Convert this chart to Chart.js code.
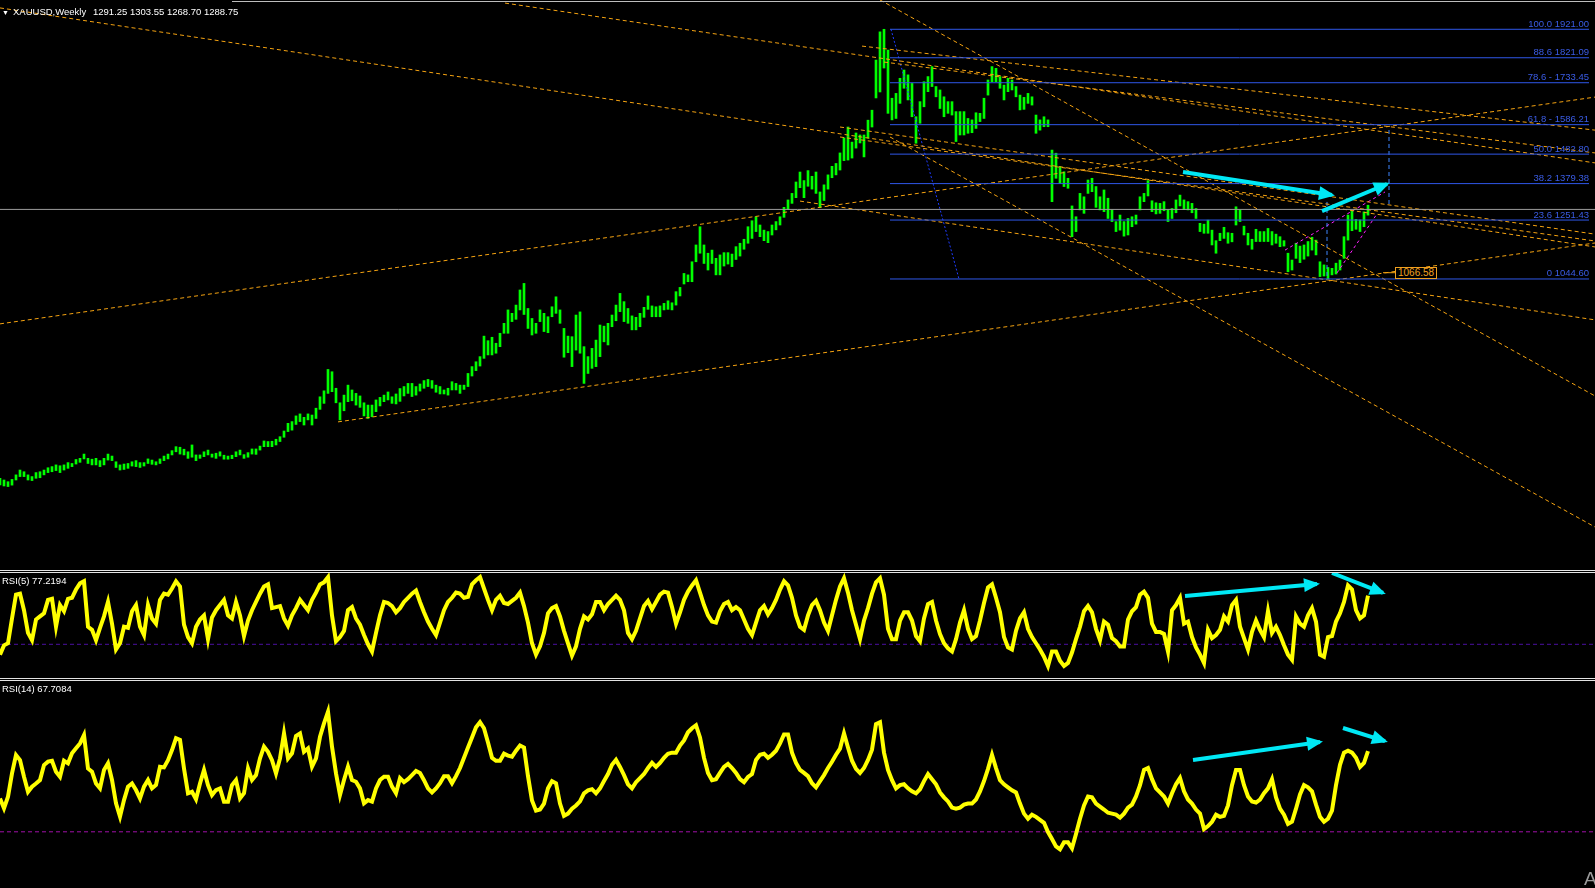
<!DOCTYPE html>
<html>
<head>
<meta charset="utf-8">
<title>XAUUSD,Weekly</title>
<script src="https://cdn.jsdelivr.net/npm/chart.js@4.4.1/dist/chart.umd.min.js"></script>
<style>
  html, body { margin: 0; padding: 0; background: #000; }
  body { width: 1595px; height: 888px; position: relative; overflow: hidden; font-family: 'Liberation Sans', Arial, sans-serif; }
  canvas { position: absolute; left: 0; }
  .sep { position: absolute; left: 0; width: 1595px; height: 1px; background: #e4e4e4; }
  .lbl { position: absolute; font-size: 9.5px; line-height: 1; color: #fff; white-space: nowrap; }
  .fib { position: absolute; font-size: 9.5px; line-height: 1; color: #3a5ce6; white-space: nowrap; }
  .tag { position: absolute; font-size: 10px; line-height: 10px; height: 10px; padding: 0 2px; border: 1px solid #f0a020; color: #f0a020; background: #000; white-space: nowrap; }
</style>
</head>
<body>
<canvas id="mainChart" width="1595" height="570" style="top:0"></canvas>
<div class="sep" style="top:1px;left:232px;width:1363px;background:#bdbdbd"></div>
<div class="sep" style="top:570px"></div>
<div class="sep" style="top:572px"></div>
<canvas id="rsi5Chart" width="1595" height="105" style="top:573px"></canvas>
<div class="sep" style="top:678px"></div>
<div class="sep" style="top:680px"></div>
<canvas id="rsi14Chart" width="1595" height="207" style="top:681px"></canvas>

<div class="lbl" style="left:2px;top:9px;font-size:7px">▼</div>
<div class="lbl" style="left:13px;top:7px">XAUUSD,Weekly</div>
<div class="lbl" style="left:93px;top:7px">1291.25 1303.55 1268.70 1288.75</div>
<div class="lbl" style="left:2px;top:576px">RSI(5) 77.2194</div>
<div class="lbl" style="left:2px;top:684px">RSI(14) 67.7084</div>
<div class="lbl" style="left:1584px;top:869px;font-size:19px;color:#9a9a9a">A</div>

<script>
// weekly gold bars, one bar every two weeks (index = bar number)
const lows = [
  322,318,316,321,339,351,351,339,337,345,347,357,365,368,372,365,374,380,386,395,
  401,413,397,392,392,386,392,409,407,383,374,376,380,388,386,383,388,397,394,392,
  397,407,413,427,438,430,427,415,419,407,415,421,427,419,415,423,412,412,414,421,
  427,415,419,430,429,444,456,456,456,462,474,489,509,514,534,544,532,550,532,555,
  587,608,643,649,610,550,582,614,617,602,594,564,555,561,579,599,614,620,608,606,
  615,634,643,632,637,651,661,667,661,647,641,641,637,655,655,643,657,667,704,723,
  739,766,778,778,784,807,854,854,895,903,936,920,871,848,854,895,860,856,912,924,
  889,770,786,737,795,784,678,713,731,737,772,824,813,877,898,930,895,889,866,866,
  877,910,938,912,912,912,936,938,936,953,985,1027,1035,1035,1105,1135,1099,1076,1099,1059,
  1059,1090,1097,1088,1113,1125,1149,1170,1187,1211,1193,1179,1172,1199,1217,1234,1261,1289,1310,1330,
  1365,1330,1370,1360,1345,1295,1320,1360,1400,1410,1427,1460,1462,1469,1504,1522,1473,1539,1578,1680,
  1701,1785,1626,1603,1608,1661,1714,1673,1614,1521,1591,1649,1702,1720,1684,1643,1614,1626,1620,1527,
  1550,1550,1556,1558,1573,1597,1608,1690,1737,1737,1714,1673,1702,1708,1684,1638,1640,1661,1655,1556,
  1567,1579,1579,1316,1398,1380,1369,1363,1193,1211,1287,1275,1345,1351,1296,1287,1281,1257,1246,1211,
  1216,1195,1199,1228,1237,1287,1316,1336,1281,1273,1275,1284,1246,1257,1277,1301,1289,1287,1277,1257,
  1211,1205,1205,1164,1135,1179,1187,1170,1175,1234,1246,1199,1164,1149,1176,1176,1176,1176,1164,1170,
  1158,1160,1070,1076,1117,1102,1114,1125,1146,1129,1053,1055,1045,1059,1062,1076,1117,1181,1214,1219,
  1211,1228,1268.70
];
const highs = [
  345,339,333,341,357,374,368,357,351,365,368,374,382,386,392,389,392,400,397,411,
  415,430,415,412,415,407,415,430,423,403,392,395,397,403,407,400,400,413,409,403,
  413,423,430,442,456,454,447,438,462,427,427,438,444,430,433,438,426,423,426,438,
  444,428,435,448,448,458,476,474,475,482,491,511,538,544,564,571,559,571,567,591,
  631,652,727,719,661,610,637,672,655,643,634,610,602,602,620,629,637,648,631,641,
  660,667,678,678,667,676,688,692,688,672,667,655,661,684,678,672,672,713,737,754,
  772,844,828,840,819,854,889,936,924,953,1006,1029,941,906,889,936,924,912,947,982,
  936,871,844,842,918,929,807,772,801,830,883,879,889,918,953,994,965,941,915,910,
  924,945,985,950,947,950,959,968,961,1000,1015,1064,1059,1105,1164,1228,1164,1135,1146,1117,
  1129,1137,1137,1132,1158,1170,1184,1228,1249,1263,1234,1216,1211,1234,1246,1263,1296,1322,1345,1385,
  1420,1390,1425,1405,1420,1350,1375,1410,1440,1450,1487,1540,1578,1525,1557,1550,1550,1602,1637,1813,
  1912,1921,1848,1679,1696,1749,1778,1761,1731,1614,1667,1737,1755,1790,1720,1708,1684,1667,1667,1632,
  1632,1632,1608,1603,1628,1626,1679,1743,1790,1784,1755,1725,1749,1743,1720,1690,1682,1696,1684,1620,
  1603,1614,1603,1497,1486,1439,1421,1398,1301,1263,1345,1333,1392,1398,1369,1333,1357,1328,1287,1246,
  1269,1246,1257,1263,1269,1333,1345,1390,1319,1312,1310,1316,1287,1292,1322,1339,1322,1316,1310,1292,
  1240,1237,1251,1216,1179,1205,1226,1207,1205,1298,1287,1230,1205,1184,1219,1211,1211,1222,1211,1202,
  1193,1179,1135,1111,1170,1160,1164,1176,1191,1181,1105,1094,1085,1082,1100,1111,1193,1269,1284,1254,
  1252,1280,1303.55
];
const rsi5 = [
  20,29,31,55,78,79,63,41,34,54,57,60,73,74,47,68,62,74,75,83,
  89,91,47,44,34,46,57,71,50,25,31,47,46,62,68,47,39,68,55,50,
  73,79,78,84,91,86,49,37,31,47,54,58,35,56,63,68,73,58,55,71,
  58,38,53,63,71,79,86,88,65,66,67,55,48,58,65,73,68,63,73,80,
  88,90,95,58,33,37,43,63,66,55,49,39,30,23,41,58,71,70,67,61,
  65,71,75,79,82,71,61,52,45,39,51,63,71,75,80,79,75,76,88,92,
  95,84,73,63,73,77,70,69,72,75,80,67,51,31,20,28,41,60,65,67,
  57,43,31,19,28,45,57,54,59,71,71,63,69,73,77,73,63,41,35,43,
  55,67,72,64,71,78,81,80,66,50,61,73,81,87,92,80,68,58,52,51,
  62,69,71,63,66,63,54,45,39,51,63,67,59,65,73,83,91,87,75,58,
  47,44,58,68,72,63,51,43,58,73,86,94,80,63,49,35,53,65,79,90,
  94,78,45,35,35,53,61,61,53,38,33,55,69,71,53,40,31,26,23,35,
  51,63,45,35,38,53,70,85,88,75,61,37,27,25,43,55,61,45,37,31,
  25,18,9,23,23,14,9,12,22,35,47,62,67,61,45,34,52,49,36,33,
  28,28,54,62,66,78,81,75,50,42,42,40,23,63,68,75,50,52,37,27,
  20,12,44,36,39,44,57,52,68,73,47,36,25,42,53,44,37,62,41,47,
  39,29,20,15,57,50,47,58,65,52,20,18,37,38,52,60,71,87,83,63,
  55,58,77.2
];
const rsi14 = [
  45.6,41,46.4,57.3,65.9,63.5,55.7,48.7,51.1,52.6,54.2,61.2,62.8,63.2,58.1,55.7,63.2,62,66.7,69,
  71.3,75.2,59.6,58.1,52.6,50.3,58.9,62,54.2,43.3,37.1,44.8,51.1,52.6,49.5,45.6,51.1,54.2,50.3,51.9,
  60.4,60.1,63.5,68.2,73.7,72.9,59.6,48,48.7,45.2,52.6,58.9,51.8,47.2,49.5,50.3,44.1,44.1,51.8,54.2,
  45.6,48,59.6,54.2,56.5,64.3,69.8,67.4,63.5,57.3,64.3,76,64.3,66.7,74.8,76,67.4,69,60.4,64.3,
  74.4,80.7,86.1,69.8,57.3,47.2,54.2,60.4,54.2,53.4,50.3,43.3,44.8,44.1,50.3,54.2,55.7,55.7,51.1,48,
  55.1,53.2,54.6,56.5,58.4,57.5,54.1,50.3,48.4,50.3,52.7,56,56,52.7,56,59.8,64.6,69.4,74.1,78.9,
  81.2,78.4,71.7,64.6,63.2,63.2,66.5,65.6,65.1,67.9,70.3,69.4,56,44.6,39.9,40.4,43.2,50.3,53.7,52.7,
  43.2,37.5,38.5,40.8,42.3,44.2,48,49.4,49.9,48,50.3,53.7,57,61.3,63.6,60.3,56.5,52.2,50.3,53.2,
  55.1,57,59.8,62.2,60.3,62.2,64.6,66.5,67,67,70.3,72.7,76.5,78.4,79.8,74.1,64.6,57.5,54.1,54.6,
  57.5,60.3,61.7,59.8,57.5,54.6,53.2,55.6,57,63.6,66,66.5,64.6,66,67.9,71.3,75.5,75.5,67,62.2,
  58.9,57.5,56,52.7,50.8,53.7,56.5,59.8,62.7,66,68.9,76,69.4,63.2,59.4,57.5,59.8,63.6,68.4,80.3,
  81.2,67,58.9,54.1,50.3,51.8,52.2,50.3,48.9,48,49.9,53.7,57,54.6,52.2,48.4,46.1,44.2,41.3,40.8,
  41.3,42.7,43.2,43.2,45.1,48.9,53.7,59.4,66,59.8,54.1,52.2,50.8,49.4,48.4,43.2,38.5,36.1,38,37,
  35.6,34.2,29.9,26.6,23.2,21.8,25.1,25.1,22.3,29,36.1,42.3,46.5,46.1,43.2,41.8,40.4,38.9,38.5,38,
  36.6,38.5,41.3,42.7,46.5,51.8,58.9,59.8,54.6,50.3,48.4,46.5,43.2,48,52.2,55.1,48.9,45.1,43.2,40.4,
  38.5,31.3,32.7,34.7,38,37,37.5,42.3,51.8,58.9,58.9,51.8,46.5,44.2,43.7,45.1,48,50.3,54.6,46.1,
  40.8,38,33.7,34.7,40.8,47.5,51.8,50.8,48.9,42.7,37,34.7,36.1,39.9,51.8,61.3,67,67.9,67,64.6,
  60.3,62.2,67.7
];

// fibonacci retracement 1921.00 -> 1044.60
const fibNames = ['100.0', '88.6', '78.6 -', '61.8 -', '50.0', '38.2', '23.6', '0'];
const fibPrices = [1921.00, 1821.09, 1733.45, 1586.21, 1482.80, 1379.38, 1251.43, 1044.60];
const fibSpan = [222.5, 397.25];
const fibDiagonal = [222.75, 1921.00, 239.75, 1044.60];
const lastClose = 1288.75;
const rsiLevel = 30;

// drawn objects: [bar1, price1, bar2, price2]
const trendLines = [
  [0, 1996, 398.75, 1157],
  [126.25, 2013, 398.75, 1452],
  [220, 2024, 398.75, 634],
  [222.5, 1543, 398.75, 174],
  [0, 887, 398.75, 1683],
  [84.5, 543, 398.75, 1171],
  [200, 1318, 398.75, 901],
  [215.5, 1862, 398.75, 1567],
  [221, 1806, 398.75, 1487],
  [210, 1578, 398.75, 1202],
  [210, 1543, 398.75, 1178]
];
const blueVerticals = [[347.25, 1567.5, 347.25, 1297], [331.75, 1315, 331.75, 1044.6]];
const pinkLines = [[321.25, 1146, 346.25, 1350], [334.25, 1066, 344.25, 1273]];
const priceArrows = [[295.75, 1420, 333, 1339], [330.5, 1283, 346.75, 1378]];
const rsi5Arrows = [[296.25, 76.8, 329.25, 88.4], [333, 99, 345.75, 79.7]];
const rsi14Arrows = [[298.25, 63.6, 330, 72], [335.75, 78.5, 346.25, 72.4]];
const priceTag = { from: 345.75, at: 348.75, price: 1066.58 };

const X_MAX = 398.75;

const arrowHeads = {
  id: 'arrowHeads',
  afterDatasetsDraw(chart) {
    const ctx = chart.ctx;
    chart.data.datasets.forEach((ds, k) => {
      if (!ds.arrowHead) return;
      const pts = chart.getDatasetMeta(k).data;
      const a = pts[0], b = pts[pts.length - 1];
      const ang = Math.atan2(b.y - a.y, b.x - a.x);
      ctx.save();
      ctx.translate(b.x, b.y);
      ctx.rotate(ang);
      ctx.fillStyle = ds.borderColor;
      ctx.beginPath();
      ctx.moveTo(3, 0);
      ctx.lineTo(-13, -7);
      ctx.lineTo(-13, 7);
      ctx.closePath();
      ctx.fill();
      ctx.restore();
    });
  }
};

function seg(s, color, width, dash, extra) {
  return Object.assign({
    type: 'line',
    data: [{ x: s[0], y: s[1] }, { x: s[2], y: s[3] }],
    borderColor: color,
    borderWidth: width,
    borderDash: dash,
    pointRadius: 0,
    fill: false,
    tension: 0,
    order: 0
  }, extra || {});
}

function options(yMin, yMax) {
  return {
    responsive: false,
    animation: false,
    devicePixelRatio: 1,
    events: [],
    layout: { padding: 0 },
    plugins: { legend: { display: false }, tooltip: { enabled: false } },
    scales: {
      x: { type: 'linear', min: 0, max: X_MAX, display: false, offset: false },
      y: { type: 'linear', min: yMin, max: yMax, display: false }
    }
  };
}

const cyan = 'rgb(0,232,245)';
const orange = '#f5a311';

// ---- price window ----
const bars = lows.map((l, i) => ({ x: i, y: [l, highs[i]] }));
const mainSets = [
  { type: 'bar', data: bars, backgroundColor: '#00ff00', borderWidth: 0, barThickness: 2, order: 2 }
];
fibPrices.forEach(p => mainSets.push(seg([fibSpan[0], p, fibSpan[1], p], '#2f57e8', 1, [])));
mainSets.push(seg([0, lastClose, X_MAX, lastClose], '#9c9c9c', 1, []));
trendLines.forEach(t => mainSets.push(seg(t, orange, 1, [4, 3])));
mainSets.push(seg(fibDiagonal, '#1f3cff', 1, [2, 2]));
blueVerticals.forEach(t => mainSets.push(seg(t, '#3f86ff', 1, [4, 3])));
pinkLines.forEach(t => mainSets.push(seg(t, '#ff20ff', 1, [3, 3])));
mainSets.push(seg([priceTag.from, priceTag.price, priceTag.at, priceTag.price], orange, 1, []));
priceArrows.forEach(t => mainSets.push(seg(t, cyan, 4, [], { arrowHead: true, order: -1 })));

const mainChart = new Chart(document.getElementById('mainChart'), {
  type: 'bar',
  data: { datasets: mainSets },
  options: options(23.1, 2023.8),
  plugins: [arrowHeads]
});

// ---- RSI(5) window ----
const rsi5Chart = new Chart(document.getElementById('rsi5Chart'), {
  type: 'line',
  data: {
    datasets: [
      { data: rsi5.map((v, i) => ({ x: i, y: v })), borderColor: '#ffff00', borderWidth: 4, pointRadius: 0, tension: 0, order: 1 },
      seg([0, rsiLevel, X_MAX, rsiLevel], '#4a0fa0', 1, [4, 3], { order: 2 })
    ].concat(rsi5Arrows.map(t => seg(t, cyan, 4, [], { arrowHead: true, order: -1 })))
  },
  options: options(-2.6, 99.0),
  plugins: [arrowHeads]
});

// ---- RSI(14) window ----
const rsi14Chart = new Chart(document.getElementById('rsi14Chart'), {
  type: 'line',
  data: {
    datasets: [
      { data: rsi14.map((v, i) => ({ x: i, y: v })), borderColor: '#ffff00', borderWidth: 4, pointRadius: 0, tension: 0, order: 1 },
      seg([0, rsiLevel, X_MAX, rsiLevel], '#a010a8', 1, [4, 3], { order: 2 })
    ].concat(rsi14Arrows.map(t => seg(t, cyan, 4, [], { arrowHead: true, order: -1 })))
  },
  options: options(3.74, 100.47),
  plugins: [arrowHeads]
});

// fib level captions and the price tag, placed through the chart scales
const xs = mainChart.scales.x, ys = mainChart.scales.y;
fibPrices.forEach((p, k) => {
  const d = document.createElement('div');
  d.className = 'fib';
  d.textContent = fibNames[k] + ' ' + p.toFixed(2);
  d.style.right = (1595 - xs.getPixelForValue(fibSpan[1])) + 'px';
  d.style.top = (ys.getPixelForValue(p) - 10.5) + 'px';
  document.body.appendChild(d);
});
const tag = document.createElement('div');
tag.className = 'tag';
tag.textContent = priceTag.price.toFixed(2);
tag.style.left = xs.getPixelForValue(priceTag.at) + 'px';
tag.style.top = (ys.getPixelForValue(priceTag.price) - 6) + 'px';
document.body.appendChild(tag);
</script>
</body>
</html>
